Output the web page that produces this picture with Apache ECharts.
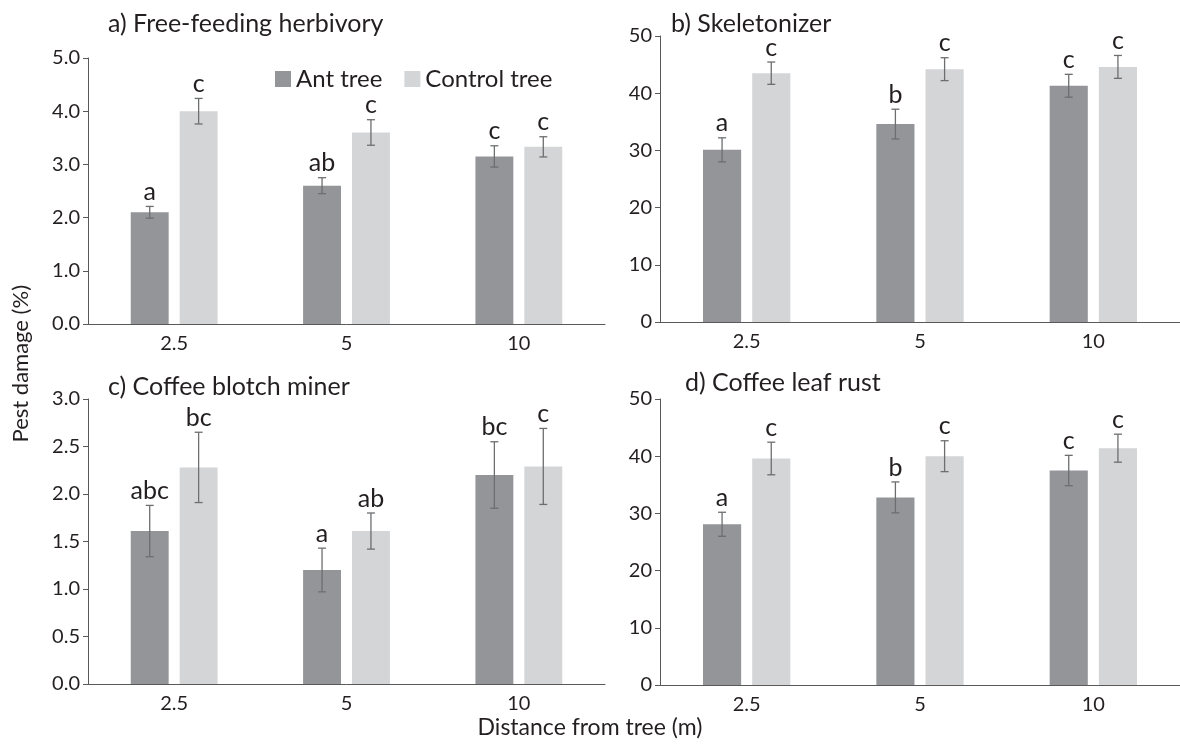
<!DOCTYPE html>
<html>
<head>
<meta charset="utf-8">
<script src="https://cdn.jsdelivr.net/npm/echarts@6/dist/echarts.min.js"></script>
<style>
	html, body { margin: 0; padding: 0; background: #fff; }
	#main { width: 1180px; height: 744px; }
</style>
</head>
<body>
<div id="main"></div>
<script>
var categories = [ '2.5', '5', '10' ];

var herbAnt = [ 2.1, 2.6, 3.15 ];
var herbAntErr = [ 0.11, 0.15, 0.2 ];
var herbCtrl = [ 4.0, 3.6, 3.33 ];
var herbCtrlErr = [ 0.24, 0.24, 0.19 ];
var herbAntLetters = [ 'a', 'ab', 'c' ];
var herbCtrlLetters = [ 'c', 'c', 'c' ];

var skelAnt = [ 30.1, 34.6, 41.3 ];
var skelAntErr = [ 2.1, 2.6, 2.0 ];
var skelCtrl = [ 43.5, 44.2, 44.6 ];
var skelCtrlErr = [ 1.95, 2.0, 2.0 ];
var skelAntLetters = [ 'a', 'b', 'c' ];
var skelCtrlLetters = [ 'c', 'c', 'c' ];

var minerAnt = [ 1.61, 1.2, 2.2 ];
var minerAntErr = [ 0.27, 0.23, 0.35 ];
var minerCtrl = [ 2.28, 1.61, 2.29 ];
var minerCtrlErr = [ 0.37, 0.19, 0.4 ];
var minerAntLetters = [ 'abc', 'a', 'bc' ];
var minerCtrlLetters = [ 'bc', 'ab', 'c' ];

var rustAnt = [ 28.1, 32.8, 37.5 ];
var rustAntErr = [ 2.1, 2.7, 2.65 ];
var rustCtrl = [ 39.6, 40.0, 41.4 ];
var rustCtrlErr = [ 2.85, 2.7, 2.45 ];
var rustAntLetters = [ 'a', 'b', 'c' ];
var rustCtrlLetters = [ 'c', 'c', 'c' ];

(function() {
	var FONT = 'Lato, "Open Sans", sans-serif';
	var TEXT = '#231f20';
	var AXIS = '#595959';
	var ANT = '#939598';
	var CTRL = '#d4d5d7';
	var BAR_FRAC = 0.22;
	var GAP_FRAC = 0.29;

	var chart = echarts.init(document.getElementById('main'));

	var grids = [
		{ left : 88, top : 58, width : 517, height : 266 },
		{ left : 660, top : 36, width : 520, height : 286 },
		{ left : 88, top : 399, width : 517, height : 285 },
		{ left : 660, top : 399, width : 520, height : 286 }
	];
	var yRanges = [ [ 5, 1, 1 ], [ 50, 10, 0 ], [ 3, 0.5, 1 ], [ 50, 10, 0 ] ];

	var xAxes = [], yAxes = [];
	for (var g = 0; g < 4; g++) {
		xAxes.push({
			type : 'category',
			gridIndex : g,
			data : categories,
			axisLine : { lineStyle : { color : AXIS, width : 1 } },
			axisTick : { show : false },
			axisLabel : { color : TEXT, fontSize : 20, fontFamily : FONT, margin : 10 }
		});
		(function(r) {
			yAxes.push({
				type : 'value',
				gridIndex : g,
				min : 0,
				max : r[0],
				interval : r[1],
				splitLine : { show : false },
				axisLine : { show : true, lineStyle : { color : AXIS, width : 1 } },
				axisTick : { show : true, length : 5, lineStyle : { color : AXIS } },
				axisLabel : {
					color : TEXT, fontSize : 20, fontFamily : FONT, margin : 8,
					formatter : function(v) { return v.toFixed(r[2]); }
				}
			});
		})(yRanges[g]);
	}

	var errSeries = function(g, vals, errs, letters, side) {
		var data = vals.map(function(v, i) { return [ i, v, errs[i] ]; });
		return {
			type : 'custom',
			xAxisIndex : g,
			yAxisIndex : g,
			clip : false,
			silent : true,
			z : 5,
			encode : { x : 0, y : 1 },
			data : data,
			renderItem : function(params, api) {
				var i = api.value(0), v = api.value(1), e = api.value(2);
				var c = api.coord([ i, v ]);
				var band = api.size([ 1, 0 ])[0];
				var bw = band * BAR_FRAC;
				var x = c[0] + side * bw * (1 + GAP_FRAC) / 2;
				var top = api.coord([ i, v + e ])[1];
				var bot = api.coord([ i, v - e ])[1];
				var ls = { stroke : '#6d6e70', lineWidth : 1.3 };
				return {
					type : 'group',
					children : [
						{ type : 'line', shape : { x1 : x, y1 : top, x2 : x, y2 : bot }, style : ls },
						{ type : 'line', shape : { x1 : x - 4, y1 : top, x2 : x + 4, y2 : top }, style : ls },
						{ type : 'line', shape : { x1 : x - 4, y1 : bot, x2 : x + 4, y2 : bot }, style : ls },
						{
							type : 'text',
							style : {
								text : letters[params.dataIndex],
								x : x, y : top - 2,
								align : 'center', verticalAlign : 'bottom',
								fontSize : 25, fontFamily : FONT, fill : TEXT
							}
						}
					]
				};
			}
		};
	};

	var barSeries = function(g, name, vals, color) {
		return {
			name : name,
			type : 'bar',
			xAxisIndex : g,
			yAxisIndex : g,
			data : vals,
			barWidth : (BAR_FRAC * 100) + '%',
			barGap : (GAP_FRAC * 100) + '%',
			itemStyle : { color : color },
			silent : true
		};
	};

	var panels = [
		[ herbAnt, herbAntErr, herbAntLetters, herbCtrl, herbCtrlErr, herbCtrlLetters ],
		[ skelAnt, skelAntErr, skelAntLetters, skelCtrl, skelCtrlErr, skelCtrlLetters ],
		[ minerAnt, minerAntErr, minerAntLetters, minerCtrl, minerCtrlErr, minerCtrlLetters ],
		[ rustAnt, rustAntErr, rustAntLetters, rustCtrl, rustCtrlErr, rustCtrlLetters ]
	];
	var series = [];
	panels.forEach(function(p, g) {
		series.push(barSeries(g, 'Ant tree', p[0], ANT));
		series.push(barSeries(g, 'Control tree', p[3], CTRL));
		series.push(errSeries(g, p[0], p[1], p[2], -1));
		series.push(errSeries(g, p[3], p[4], p[5], 1));
	});

	var titleStyle = { color : TEXT, fontSize : 25, fontWeight : 'normal', fontFamily : FONT };
	var option = {
		animation : false,
		backgroundColor : '#fff',
		title : [
			{ text : 'a) Free-feeding herbivory', left : 103, top : 6, textStyle : titleStyle },
			{ text : 'b) Skeletonizer', left : 666, top : 6, textStyle : titleStyle },
			{ text : 'c) Coffee blotch miner', left : 103, top : 369, textStyle : titleStyle },
			{ text : 'd) Coffee leaf rust', left : 680, top : 365, textStyle : titleStyle }
		],
		legend : {
			data : [ 'Ant tree', 'Control tree' ],
			left : 270,
			top : 62,
			icon : 'rect',
			itemWidth : 16,
			itemHeight : 16,
			itemGap : 22,
			textStyle : { color : TEXT, fontSize : 24, fontFamily : FONT }
		},
		graphic : [
			{
				type : 'text',
				left : 10, top : 285,
				rotation : Math.PI / 2,
				style : { text : 'Pest damage (%)', fontSize : 22, fontFamily : FONT, fill : TEXT }
			},
			{
				type : 'text',
				left : 'center', top : 716,
				style : { text : 'Distance from tree (m)', fontSize : 23, fontFamily : FONT, fill : TEXT }
			}
		],
		grid : grids,
		xAxis : xAxes,
		yAxis : yAxes,
		series : series
	};
	chart.setOption(option);
})();
</script>
</body>
</html>
